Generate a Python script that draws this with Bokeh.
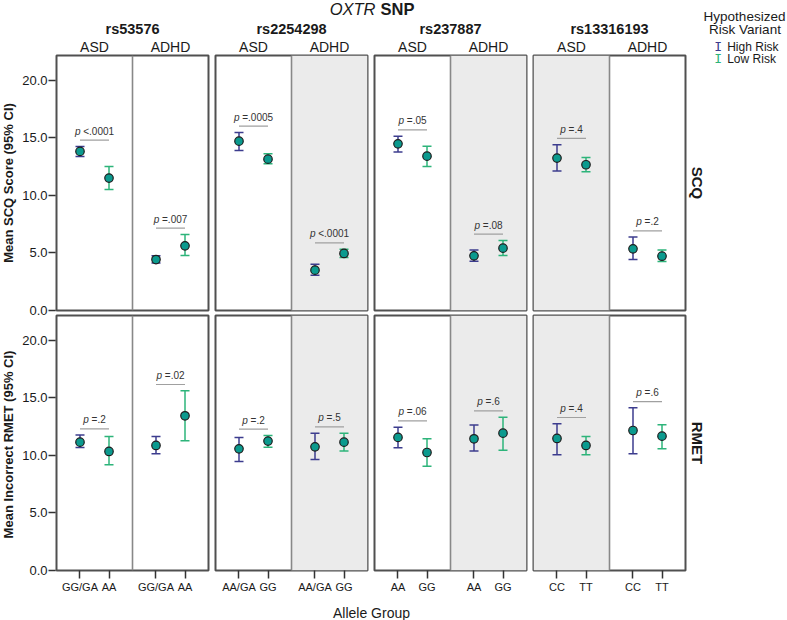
from bokeh.plotting import figure
from bokeh.layouts import row, column
from bokeh.models import (Range1d, FixedTicker, Label, Span, BoxAnnotation,
                          ColumnDataSource, LinearAxis, PrintfTickFormatter)
from bokeh.core.properties import value
from bokeh.embed import file_html
from bokeh.resources import INLINE

# ---------------- data ----------------
snps = ["rs53576", "rs2254298", "rs237887", "rs13316193"]
disorders = ["ASD", "ADHD"]
measures = ["SCQ", "RMET"]
y_labels = ["Mean SCQ Score (95% CI)", "Mean Incorrect RMET (95% CI)"]
high_alleles = ["GG/GA", "AA/GA", "AA", "CC"]
low_alleles = ["AA", "GG", "GG", "TT"]
y_ticks = [0, 5, 10, 15, 20]

# order: rs53576 ASD, rs53576 ADHD, rs2254298 ASD, rs2254298 ADHD, ...
scq_high_mean = [13.83, 4.43, 14.72, 3.51, 14.49, 4.75, 13.25, 5.36]
scq_high_lo = [13.39, 4.12, 13.91, 3.07, 13.77, 4.29, 12.12, 4.43]
scq_high_hi = [14.26, 4.75, 15.48, 4.03, 15.16, 5.25, 14.41, 6.38]
scq_low_mean = [11.51, 5.62, 13.16, 4.96, 13.42, 5.42, 12.67, 4.72]
scq_low_lo = [10.52, 4.78, 12.75, 4.61, 12.52, 4.78, 12.06, 4.26]
scq_low_hi = [12.52, 6.61, 13.62, 5.33, 14.29, 6.09, 13.30, 5.25]
scq_p = ["<.0001", "=.007", "=.0005", "<.0001", "=.05", "=.08", "=.4", "=.2"]

rmet_high_mean = [11.16, 10.87, 10.58, 10.75, 11.57, 11.45, 11.48, 12.17]
rmet_high_lo = [10.70, 10.14, 9.48, 9.65, 10.67, 10.38, 10.06, 10.14]
rmet_high_hi = [11.77, 11.65, 11.57, 11.94, 12.46, 12.64, 12.75, 14.14]
rmet_low_mean = [10.35, 13.45, 11.25, 11.16, 10.26, 11.94, 10.87, 11.68]
rmet_low_lo = [9.19, 11.28, 10.72, 10.38, 9.07, 10.46, 10.06, 10.58]
rmet_low_hi = [11.65, 15.62, 11.74, 11.94, 11.45, 13.33, 11.65, 12.67]
rmet_p = ["=.2", "=.02", "=.2", "=.5", "=.06", "=.6", "=.4", "=.6"]

shaded = [[False, False], [False, True], [False, True], [True, False]]

DATA = [
    (scq_high_mean, scq_high_lo, scq_high_hi, scq_low_mean, scq_low_lo, scq_low_hi, scq_p),
    (rmet_high_mean, rmet_high_lo, rmet_high_hi, rmet_low_mean, rmet_low_lo, rmet_low_hi, rmet_p),
]

# ---------------- style / layout ----------------
FONT = "Liberation Sans"
HIGH_C = "#3c3c8e"
LOW_C = "#2db47a"
PT_C = "#0b9a8e"
SHADE = "#ebebeb"
BORDER = "#505050"

W, H = 787, 620
FW, FH = 152, 255            # frame size of one SNP panel
YSTRIP = 55                  # width of the y-axis strip
HH = 54                      # header height
A_TOP, A_BOT = 1, 4
B_TOP, B_BOT = 1, 25
MID_W = 3 * (1 + FW + 6) + (1 + FW + 2)
RIGHT_W = W - YSTRIP - MID_W
FOOT_H = H - HH - (A_TOP + FH + A_BOT) - (B_TOP + FH + B_BOT)
PX_PER_UNIT = FH / 22.17

SUB_SHIFT = 2.62
XR = (-0.81, 4.43)
DIV = 1.81
YR = (0, 22.17)


def val_width(s, size):
    w = {"=": 0.584, "<": 0.584, ".": 0.278, " ": 0.278}
    return size * sum(w.get(ch, 0.556) for ch in s)


def blank(width, height):
    f = figure(width=width, height=height, tools="", toolbar_location=None,
               output_backend="svg", x_axis_location=None, y_axis_location=None,
               min_border_left=0, min_border_right=0, min_border_top=0,
               min_border_bottom=0, x_range=Range1d(0, 1), y_range=Range1d(0, 1))
    f.xgrid.visible = False
    f.ygrid.visible = False
    f.outline_line_color = None
    f.background_fill_color = "white"
    f.border_fill_color = "white"
    return f


def lab(f, x, y, text, size, style="normal", align="center", color="#1a1a1a",
        font=FONT, angle=0):
    f.add_layout(Label(x=x, y=y, x_units="screen", y_units="screen", text=text,
                       text_font=font, text_font_size=f"{size}px",
                       text_font_style=style, text_align=align,
                       text_baseline="middle", text_color=color, angle=angle))


def yaxis_fig(r):
    if r == 0:
        top, bot, fh = A_TOP, 8, FH
    else:
        top, bot = 0, 50
        fh = H - HH - (A_TOP + FH + 8) - bot
    f = figure(width=YSTRIP, height=top + fh + bot, tools="", toolbar_location=None,
               output_backend="svg", x_axis_location=None, y_axis_location=None,
               min_border_left=YSTRIP - 1, min_border_right=0,
               min_border_top=top, min_border_bottom=bot,
               x_range=Range1d(0, 1), y_range=Range1d(0, fh / PX_PER_UNIT))
    f.xgrid.visible = False
    f.ygrid.visible = False
    f.outline_line_color = None
    f.background_fill_color = "white"
    f.border_fill_color = "white"
    ax = LinearAxis(ticker=FixedTicker(ticks=y_ticks),
                    formatter=PrintfTickFormatter(format="%.1f"),
                    axis_label=y_labels[r], axis_label_text_font=FONT,
                    axis_label_text_font_style="bold",
                    axis_label_text_font_size="13px",
                    axis_label_text_color="#1a1a1a",
                    axis_label_standoff=3, major_label_standoff=1,
                    major_label_text_font=FONT,
                    major_label_text_font_size="13px",
                    major_label_text_color="#1a1a1a",
                    major_tick_out=7, major_tick_in=1,
                    minor_tick_out=0, minor_tick_in=0,
                    axis_line_color=None, major_tick_line_color="#333333",
                    major_tick_line_width=1.5)
    f.add_layout(ax, "left")
    return f


def panel(r, c):
    rb = 2 if c == 3 else 6
    tb = A_TOP if r == 0 else B_TOP
    bb = A_BOT if r == 0 else B_BOT
    p = figure(width=1 + FW + rb, height=tb + FH + bb,
               x_range=Range1d(*XR), y_range=Range1d(*YR),
               x_axis_location=None, y_axis_location=None, tools="",
               toolbar_location=None, output_backend="svg",
               min_border_left=1, min_border_right=rb,
               min_border_top=tb, min_border_bottom=bb)
    p.xgrid.visible = False
    p.ygrid.visible = False
    p.outline_line_color = BORDER
    p.outline_line_width = 2
    p.background_fill_color = "white"
    p.border_fill_color = "white"

    for d in range(2):
        if shaded[c][d]:
            p.add_layout(BoxAnnotation(left=XR[0] if d == 0 else DIV,
                                       right=DIV if d == 0 else XR[1],
                                       fill_color=SHADE, fill_alpha=1,
                                       line_alpha=0, level="underlay"))
    p.add_layout(Span(location=DIV, dimension="height", line_color="#888888",
                      line_width=1.6))

    hm, hl, hh, lm, ll, lh, pv = DATA[r]
    xs, ms, los, his, cols = [], [], [], [], []
    bx0, bx1, by, bxm, ptxt, vtxt, po, vo = [], [], [], [], [], [], [], []
    for d in range(2):
        i = 2 * c + d
        x0, x1 = 0 + d * SUB_SHIFT, 1 + d * SUB_SHIFT
        xs += [x0, x1]
        ms += [hm[i], lm[i]]
        los += [hl[i], ll[i]]
        his += [hh[i], lh[i]]
        cols += [HIGH_C, LOW_C]
        bx0.append(x0)
        bx1.append(x1)
        by.append(max(hh[i], lh[i]) + 0.55)
        bxm.append((x0 + x1) / 2)
        ptxt.append("p")
        vtxt.append(pv[i])
        total = val_width("p ", 10) + val_width(pv[i], 10)
        po.append(-total / 2)
        vo.append(-total / 2 + val_width("p ", 10))

    src = ColumnDataSource(dict(x=xs, mean=ms, lo=los, hi=his, color=cols))
    bsrc = ColumnDataSource(dict(x0=bx0, x1=bx1, y=by, xm=bxm, pt=ptxt, vt=vtxt,
                                 po=po, vo=vo))

    p.segment(x0="x0", y0="y", x1="x1", y1="y", line_color="#a0a0a0",
              line_width=1.2, source=bsrc)
    p.text(x="xm", y="y", text="pt", x_offset="po", y_offset=-9,
           text_font=value(FONT), text_font_style="italic",
           text_font_size="10px", text_align="left", text_baseline="middle",
           text_color="#333333", source=bsrc)
    p.text(x="xm", y="y", text="vt", x_offset="vo", y_offset=-9,
           text_font=value(FONT), text_font_size="10px", text_align="left",
           text_baseline="middle", text_color="#333333", source=bsrc)

    p.segment(x0="x", y0="lo", x1="x", y1="hi", line_color="color",
              line_width=1.5, source=src)
    p.scatter(x="x", y="lo", marker="dash", size=9, line_color="color",
              line_width=1.5, source=src)
    p.scatter(x="x", y="hi", marker="dash", size=9, line_color="color",
              line_width=1.5, source=src)
    p.scatter(x="x", y="mean", marker="circle", size=8.5, fill_color=PT_C,
              line_color="#1e1e1e", line_width=1.2, source=src)

    if r == 1:
        ticks = [0, 1, SUB_SHIFT, 1 + SUB_SHIFT]
        names = [high_alleles[c], low_alleles[c], high_alleles[c], low_alleles[c]]
        xa = LinearAxis(ticker=FixedTicker(ticks=ticks),
                        major_label_overrides={t: n for t, n in zip(ticks, names)},
                        major_label_text_font=FONT,
                        major_label_text_font_size="11px",
                        major_label_text_color="#1a1a1a",
                        major_label_standoff=2, major_tick_out=8,
                        major_tick_in=0, minor_tick_out=0, minor_tick_in=0,
                        axis_line_color=None, major_tick_line_color="#333333",
                        major_tick_line_width=1.5)
        p.add_layout(xa, "below")
    return p


# ---------------- header (x = image x - YSTRIP, y from header bottom) ----------------
header = blank(MID_W, HH)
lab(header, 375 - YSTRIP, HH - 8, "OXTR", 16.5, style="italic", align="right")
lab(header, 380 - YSTRIP, HH - 8, "SNP", 16.5, style="bold", align="left")
for k in range(4):
    x0 = 1 + k * (FW + 7)
    lab(header, x0 + FW / 2, HH - 28, snps[k], 14.5, style="bold")
    for d in range(2):
        lab(header, x0 + FW / 4 + d * FW / 2, 8, disorders[d], 14)

# ---------------- footer ----------------
footer = blank(MID_W, FOOT_H)
lab(footer, 371 - YSTRIP, H - 612, "Allele Group", 14)

# ---------------- right column (x = image x - 687) ----------------
right = blank(RIGHT_W, H)
a_center = HH + A_TOP + FH / 2
b_center = HH + A_TOP + FH + A_BOT + B_TOP + FH / 2
lab(right, 10, H - a_center, measures[0], 15, style="bold", angle=-1.5708)
lab(right, 10, H - b_center, measures[1], 15, style="bold", angle=-1.5708)
lab(right, 57, H - 16.2, "Hypothesized", 13.5)
lab(right, 57.5, H - 28.7, "Risk Variant", 13.5)
lab(right, 30.7, H - 45.7, "I", 13, color=HIGH_C, font="DejaVu Sans Mono")
lab(right, 39.7, H - 46.2, "High Risk", 12, align="left")
lab(right, 30.7, H - 58.2, "I", 13, color=LOW_C, font="DejaVu Sans Mono")
lab(right, 39.7, H - 58.7, "Low Risk", 12, align="left")

strip = column(blank(YSTRIP, HH), yaxis_fig(0), yaxis_fig(1))
rows = [row(*[panel(r, c) for c in range(4)]) for r in range(2)]
mid = column(header, rows[0], rows[1], footer)
layout = row(strip, mid, right)

open("out.html", "w").write(file_html(layout, INLINE))
